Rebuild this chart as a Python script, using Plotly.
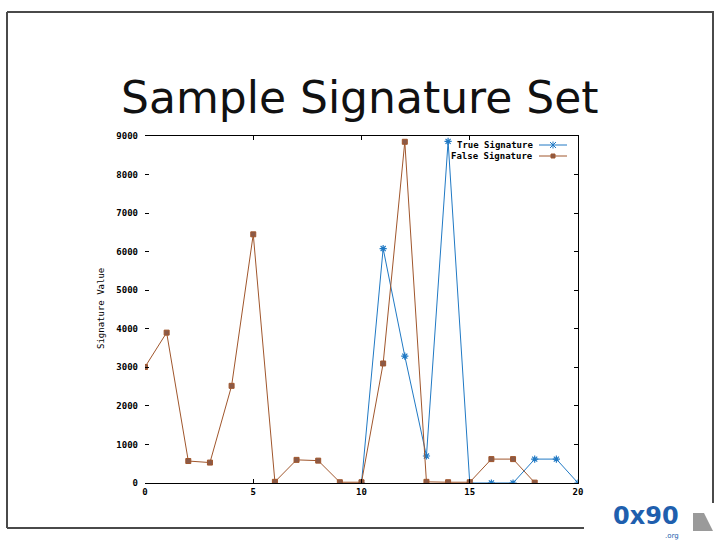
import plotly.graph_objects as go

# ---- data ----
true_x = [10, 11, 12, 13, 14, 15, 16, 17, 18, 19, 20]
true_y = [0, 6080, 3290, 700, 8860, 0, 0, 0, 620, 620, 0]

false_x = [0, 1, 2, 3, 4, 5, 6, 7, 8, 9, 10, 11, 12, 13, 14, 15, 16, 17, 18]
false_y = [3010, 3900, 570, 530, 2520, 6450, 30, 600, 580, 20, 20, 3100, 8850, 30, 20, 20, 620, 620, 10]

x_ticks = [0, 5, 10, 15, 20]
y_ticks = [0, 1000, 2000, 3000, 4000, 5000, 6000, 7000, 8000, 9000]

title_text = "Sample Signature Set"
series_names = ["True Signature", "False Signature"]
y_title = "Signature Value"

BLUE = "#2079c4"
BROWN = "#a0562c"

W, H = 720, 540
L, R, T, B = 145, 578, 136, 483  # plot area in pixels


def px(x):
    return (x - L) / (R - L)


def py(y):
    return (B - y) / (B - T)


fig = go.Figure()
fig.add_trace(go.Scatter(
    x=true_x, y=true_y, mode="lines+markers", name=series_names[0],
    line=dict(color=BLUE, width=1),
    marker=dict(symbol="asterisk-open", size=6, line=dict(color=BLUE, width=1.2)),
    showlegend=False,
))
fig.add_trace(go.Scatter(
    x=false_x, y=false_y, mode="lines+markers", name=series_names[1],
    line=dict(color=BROWN, width=1),
    marker=dict(symbol="square", size=5, color="#8a5a48", line=dict(color=BROWN, width=1)),
    showlegend=False,
))

tickfont = dict(family="DejaVu Sans Mono", size=9, color="black", weight="bold")

fig.update_layout(
    width=W, height=H,
    margin=dict(l=L, r=W - R, t=T, b=H - B),
    paper_bgcolor="white", plot_bgcolor="white",
    showlegend=False,
    xaxis=dict(range=[0, 20], tickvals=x_ticks, ticks="inside", ticklen=4,
               tickcolor="black", showgrid=False, zeroline=False,
               showline=True, linecolor="black", linewidth=1,
               tickfont=tickfont),
    yaxis=dict(range=[0, 9000], tickvals=y_ticks, ticks="inside", ticklen=4,
               tickcolor="black", showgrid=False, zeroline=False,
               showline=False, tickfont=tickfont, ticklabelstandoff=6),
    xaxis2=dict(overlaying="x", side="top", matches="x", tickvals=x_ticks,
                ticks="inside", ticklen=4, tickcolor="black", showticklabels=False,
                showgrid=False, zeroline=False, showline=True, linecolor="black", linewidth=1),
    yaxis2=dict(overlaying="y", side="right", matches="y", tickvals=y_ticks,
                ticks="inside", ticklen=4, tickcolor="black", showticklabels=False,
                showgrid=False, zeroline=False, showline=True, linecolor="black", linewidth=1),
)

# invisible helper trace so the mirrored axes are drawn
fig.add_trace(go.Scatter(x=[], y=[], xaxis="x2", yaxis="y2", showlegend=False))

annotations = []
shapes = []

# title
annotations.append(dict(text=title_text, x=px(359), y=py(97), xref="paper", yref="paper",
                        showarrow=False, xanchor="center", yanchor="middle",
                        font=dict(family="DejaVu Sans", size=44, color="#111111")))

# y-axis title
annotations.append(dict(text=y_title, x=px(101), y=py(309), xref="paper", yref="paper",
                        showarrow=False, textangle=-90, xanchor="center", yanchor="middle",
                        font=dict(family="DejaVu Sans Mono", size=9, color="black")))

# manual gnuplot-style legend (text right, sample on the right)
legend_rows = [(series_names[0], BLUE, 145), (series_names[1], BROWN, 156)]
for name, col, yy in legend_rows:
    annotations.append(dict(text="<b>%s</b>" % name, x=px(535), y=py(yy), xref="paper", yref="paper",
                            showarrow=False, xanchor="right", yanchor="middle",
                            font=dict(family="DejaVu Sans Mono", size=9, color="black")))
    shapes.append(dict(type="line", xref="paper", yref="paper", x0=px(539), x1=px(567),
                       y0=py(yy), y1=py(yy), line=dict(color=col, width=1)))
# legend sample markers
shapes.append(dict(type="line", xref="paper", yref="paper", x0=px(550), x1=px(556),
                   y0=py(142), y1=py(148), line=dict(color=BLUE, width=1)))
shapes.append(dict(type="line", xref="paper", yref="paper", x0=px(550), x1=px(556),
                   y0=py(148), y1=py(142), line=dict(color=BLUE, width=1)))
shapes.append(dict(type="line", xref="paper", yref="paper", x0=px(553), x1=px(553),
                   y0=py(141.5), y1=py(148.5), line=dict(color=BLUE, width=1)))
shapes.append(dict(type="rect", xref="paper", yref="paper", x0=px(551), x1=px(555),
                   y0=py(154), y1=py(158), line=dict(color=BROWN, width=1), fillcolor="#8a5a48"))

# slide frame
frame = dict(color="#4a4a4a", width=2)
shapes.append(dict(type="line", xref="paper", yref="paper", x0=px(7), x1=px(714), y0=py(12), y1=py(12), line=frame))
shapes.append(dict(type="line", xref="paper", yref="paper", x0=px(7), x1=px(7), y0=py(12), y1=py(528), line=frame))
shapes.append(dict(type="line", xref="paper", yref="paper", x0=px(7), x1=px(584), y0=py(528), y1=py(528), line=frame))
shapes.append(dict(type="line", xref="paper", yref="paper", x0=px(713), x1=px(713), y0=py(12), y1=py(503), line=frame))

# logo (0x90.org)
annotations.append(dict(text="<b>0x90</b>", x=px(646), y=py(516), xref="paper", yref="paper",
                        showarrow=False, xanchor="center", yanchor="middle",
                        font=dict(family="DejaVu Sans", size=24, color="#1f5fae")))
annotations.append(dict(text=".org", x=px(672), y=py(535.5), xref="paper", yref="paper",
                        showarrow=False, xanchor="center", yanchor="middle",
                        font=dict(family="DejaVu Sans", size=7, color="#1f5fae")))
shapes.append(dict(type="path", xref="paper", yref="paper",
                   path="M %f,%f L %f,%f L %f,%f L %f,%f Z" % (px(693), py(531), px(693), py(513),
                                                            px(704), py(513), px(713), py(531)),
                   fillcolor="#9a9a9a", line=dict(width=0)))

fig.update_layout(annotations=annotations, shapes=shapes)

fig.write_html("out.html", config={"displayModeBar": False},
               post_script="document.body.style.margin='0';document.body.style.overflow='hidden';")
